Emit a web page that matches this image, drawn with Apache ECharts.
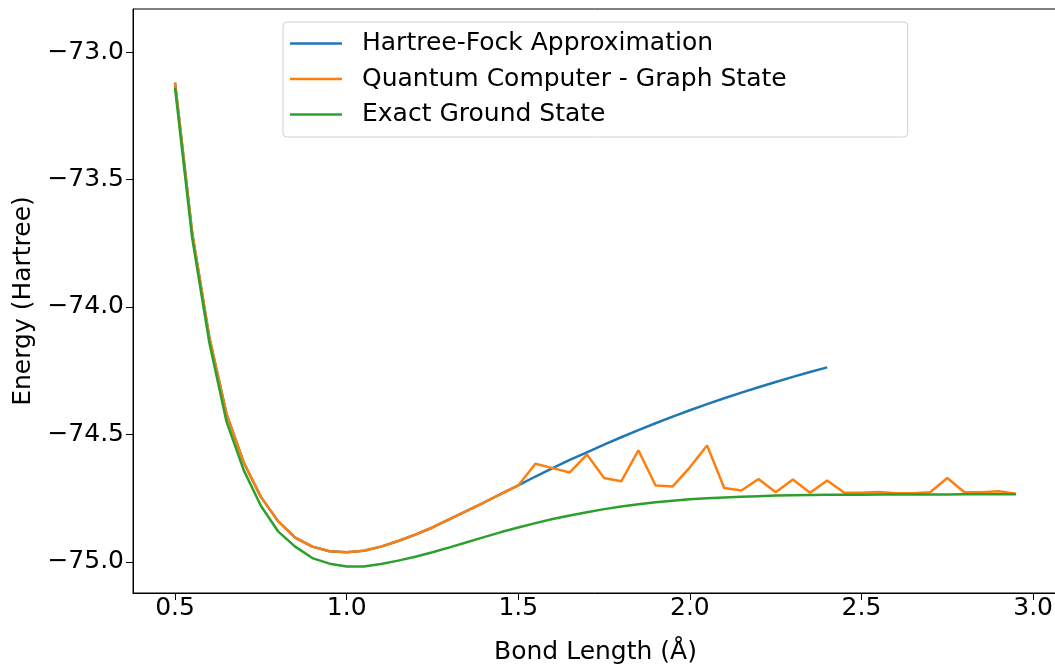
<!DOCTYPE html>
<html>
<head>
    <meta charset="UTF-8">
    <title>Energy vs Bond Length</title>
    <script src="https://cdn.jsdelivr.net/npm/echarts@6/dist/echarts.min.js"></script>
    <style>
        html, body { margin: 0; padding: 0; background: #fff; }
        #main { width: 1055px; height: 664px; }
    </style>
</head>
<body>
    <div id="main"></div>

    <script>
        // bond lengths (Å)
        const bondLengths = [
            0.5, 0.55, 0.6, 0.65, 0.7, 0.75, 0.8, 0.85, 0.9, 0.95,
            1.0, 1.05, 1.1, 1.15, 1.2, 1.25, 1.3, 1.35, 1.4, 1.45,
            1.5, 1.55, 1.6, 1.65, 1.7, 1.75, 1.8, 1.85, 1.9, 1.95,
            2.0, 2.05, 2.1, 2.15, 2.2, 2.25, 2.3, 2.35, 2.4, 2.45,
            2.5, 2.55, 2.6, 2.65, 2.7, 2.75, 2.8, 2.85, 2.9, 2.95
        ];

        // Hartree-Fock only goes to 2.4 Å
        const hartreeFock = [
            -73.12, -73.71, -74.12, -74.42, -74.61, -74.745, -74.84, -74.905, -74.94, -74.958,
            -74.962, -74.956, -74.94, -74.918, -74.893, -74.865, -74.832, -74.80, -74.767, -74.733,
            -74.70, -74.665, -74.632, -74.600, -74.570, -74.540, -74.511, -74.483, -74.456, -74.430,
            -74.405, -74.381, -74.358, -74.336, -74.315, -74.294, -74.274, -74.255, -74.237
        ];

        const quantumGraph = [
            -73.12, -73.71, -74.12, -74.42, -74.61, -74.745, -74.84, -74.905, -74.94, -74.958,
            -74.962, -74.956, -74.94, -74.918, -74.893, -74.865, -74.832, -74.80, -74.767, -74.733,
            -74.70, -74.615, -74.632, -74.649, -74.579, -74.671, -74.684, -74.562, -74.70, -74.704,
            -74.629, -74.543, -74.71, -74.72, -74.675, -74.727, -74.677, -74.729, -74.681, -74.729,
            -74.729, -74.726, -74.731, -74.731, -74.727, -74.671, -74.727, -74.727, -74.723, -74.733
        ];

        const exactGround = [
            -73.14, -73.73, -74.14, -74.45, -74.64, -74.78, -74.88, -74.94, -74.985, -75.007,
            -75.018, -75.018, -75.008, -74.995, -74.98, -74.962, -74.943, -74.923, -74.903, -74.883,
            -74.865, -74.848, -74.832, -74.818, -74.805, -74.793, -74.783, -74.774, -74.766, -74.760,
            -74.754, -74.750, -74.747, -74.744, -74.742, -74.740, -74.739, -74.738, -74.737, -74.737,
            -74.737, -74.736, -74.736, -74.736, -74.736, -74.736, -74.735, -74.735, -74.735, -74.735
        ];

        const xTicks = [0.5, 1.0, 1.5, 2.0, 2.5, 3.0];
        const yTicks = [-75.0, -74.5, -74.0, -73.5, -73.0];

        const FONT = 'DejaVu Sans';
        const FS = 25;

        const pairs = (ys) => ys.map((y, i) => [bondLengths[i], y]);
        const fmt = (v) => (v < 0 ? '\u2212' : '') + Math.abs(v).toFixed(1);

        const lineSeries = (name, ys, color) => ({
            name: name,
            type: 'line',
            data: pairs(ys),
            showSymbol: false,
            symbol: 'none',
            animation: false,
            lineStyle: { width: 2.5, color: color },
            itemStyle: { color: color }
        });

        const chart = echarts.init(document.getElementById('main'));
        chart.setOption({
            animation: false,
            textStyle: { fontFamily: FONT },
            grid: {
                left: 133, top: 9, width: 925, height: 584,
                outerBoundsMode: 'none',
                containLabel: false,
                show: true, borderColor: '#000', borderWidth: 1,
                backgroundColor: 'transparent'
            },
            legend: {
                orient: 'vertical',
                left: 283, top: 22,
                padding: [9, 121, 10, 7],
                itemGap: 10.5,
                itemWidth: 52, itemHeight: 2.5,
                icon: 'rect',
                backgroundColor: '#fff',
                borderColor: '#d0d0d0', borderWidth: 1, borderRadius: 4,
                textStyle: { fontFamily: FONT, fontSize: FS, lineHeight: FS, color: '#000', padding: [0, 0, 0, 15] },
                data: ['Hartree-Fock Approximation', 'Quantum Computer - Graph State', 'Exact Ground State']
            },
            xAxis: {
                type: 'value',
                min: 0.3775, max: 3.0725,
                name: 'Bond Length (\u00c5)',
                nameLocation: 'middle',
                nameGap: 47,
                nameTextStyle: { fontFamily: FONT, fontSize: FS, color: '#000' },
                axisLine: { show: true, lineStyle: { color: '#000', width: 1 } },
                axisTick: { show: true, length: 7, lineStyle: { color: '#000' }, customValues: xTicks },
                axisLabel: { fontFamily: FONT, fontSize: FS, color: '#000', margin: 3, customValues: xTicks, formatter: fmt },
                splitLine: { show: false }
            },
            yAxis: {
                type: 'value',
                min: -75.122, max: -72.831,
                name: 'Energy (Hartree)',
                nameLocation: 'middle',
                nameGap: 92,
                nameRotate: 90,
                nameTextStyle: { fontFamily: FONT, fontSize: FS, color: '#000' },
                axisLine: { show: true, lineStyle: { color: '#000', width: 1 } },
                axisTick: { show: true, length: 7, lineStyle: { color: '#000' }, customValues: yTicks },
                axisLabel: { fontFamily: FONT, fontSize: FS, color: '#000', margin: 9, customValues: yTicks, formatter: fmt },
                splitLine: { show: false }
            },
            series: [
                lineSeries('Hartree-Fock Approximation', hartreeFock, '#1f77b4'),
                lineSeries('Quantum Computer - Graph State', quantumGraph, '#ff7f0e'),
                lineSeries('Exact Ground State', exactGround, '#2ca02c')
            ]
        });
    </script>
</body>
</html>
